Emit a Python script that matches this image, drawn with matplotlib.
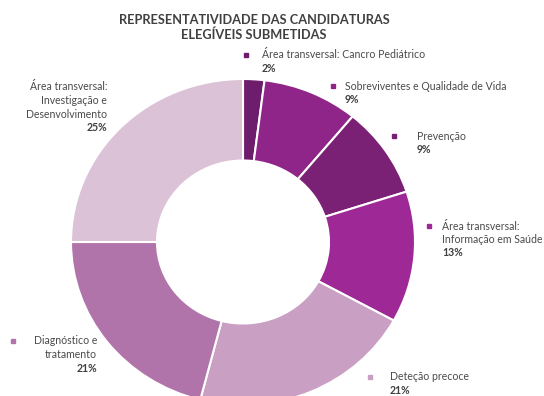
import matplotlib.pyplot as plt

plt.rcParams['font.family'] = ['Lato', 'DejaVu Sans']

categories = ["Área transversal: Cancro Pediátrico",
              "Sobreviventes e Qualidade de Vida",
              "Prevenção",
              "Área transversal:\nInformação em Saúde",
              "Deteção precoce",
              "Diagnóstico e\ntratamento",
              "Área transversal:\nInvestigação e\nDesenvolvimento"]
shares = [2, 9, 9, 13, 21, 21, 25]
colors = ["#6e1d6c", "#8f2589", "#7a2176", "#9e2896",
          "#c9a0c3", "#b174aa", "#dbc2d7"]

W, H = 544, 396
fig = plt.figure(figsize=(W / 100, H / 100), dpi=100)


def px(x, y):
    return x / W, 1 - y / H


# donut: center (243, 242) px, radii 172 x 163 px (slightly wide)
cx, cy, rx, ry = 243, 242, 172, 163
ax = fig.add_axes([(cx - rx) / W, (H - cy - ry) / H, 2 * rx / W, 2 * ry / H])
ax.pie(shares, colors=colors, startangle=90, counterclock=False,
       wedgeprops=dict(width=0.5, edgecolor="white", linewidth=1.5))
ax.set_aspect('auto')
ax.set_xlim(-1, 1)
ax.set_ylim(-1, 1)

fig.text(*px(254, 20), "REPRESENTATIVIDADE DAS CANDIDATURAS", ha="center",
         va="center", fontsize=9.2, fontweight="bold", color="#404040")
fig.text(*px(254, 35), "ELEGÍVEIS SUBMETIDAS", ha="center",
         va="center", fontsize=9.2, fontweight="bold", color="#404040")

# label layout: (marker x, text x, first line y, alignment)
spots = [(246, 262, 55, "left"),
         (333, 345, 86, "left"),
         (394, 417, 136, "left"),
         (429, 442, 226, "left"),
         (370, 390, 377, "left"),
         (13, 97, 341, "right"),
         (None, 107, 87, "right")]

line_h = 13.5
for name, val, col, (mx, tx, ty, ha) in zip(categories, shares, colors, spots):
    lines = name.split("\n")
    for i, ln in enumerate(lines):
        fig.text(*px(tx, ty + i * line_h), ln, ha=ha, va="center",
                 fontsize=7.6, color="#4a4a4a")
    fig.text(*px(tx, ty + len(lines) * line_h), f"{val}%", ha=ha, va="center",
             fontsize=7.6, fontweight="bold", color="#404040")
    if mx is not None:
        fig.patches.append(plt.Rectangle(px(mx - 2, ty + 2), 4 / W, 4 / H,
                                         transform=fig.transFigure,
                                         color=col, figure=fig))

fig.savefig("out.png", dpi=100)
